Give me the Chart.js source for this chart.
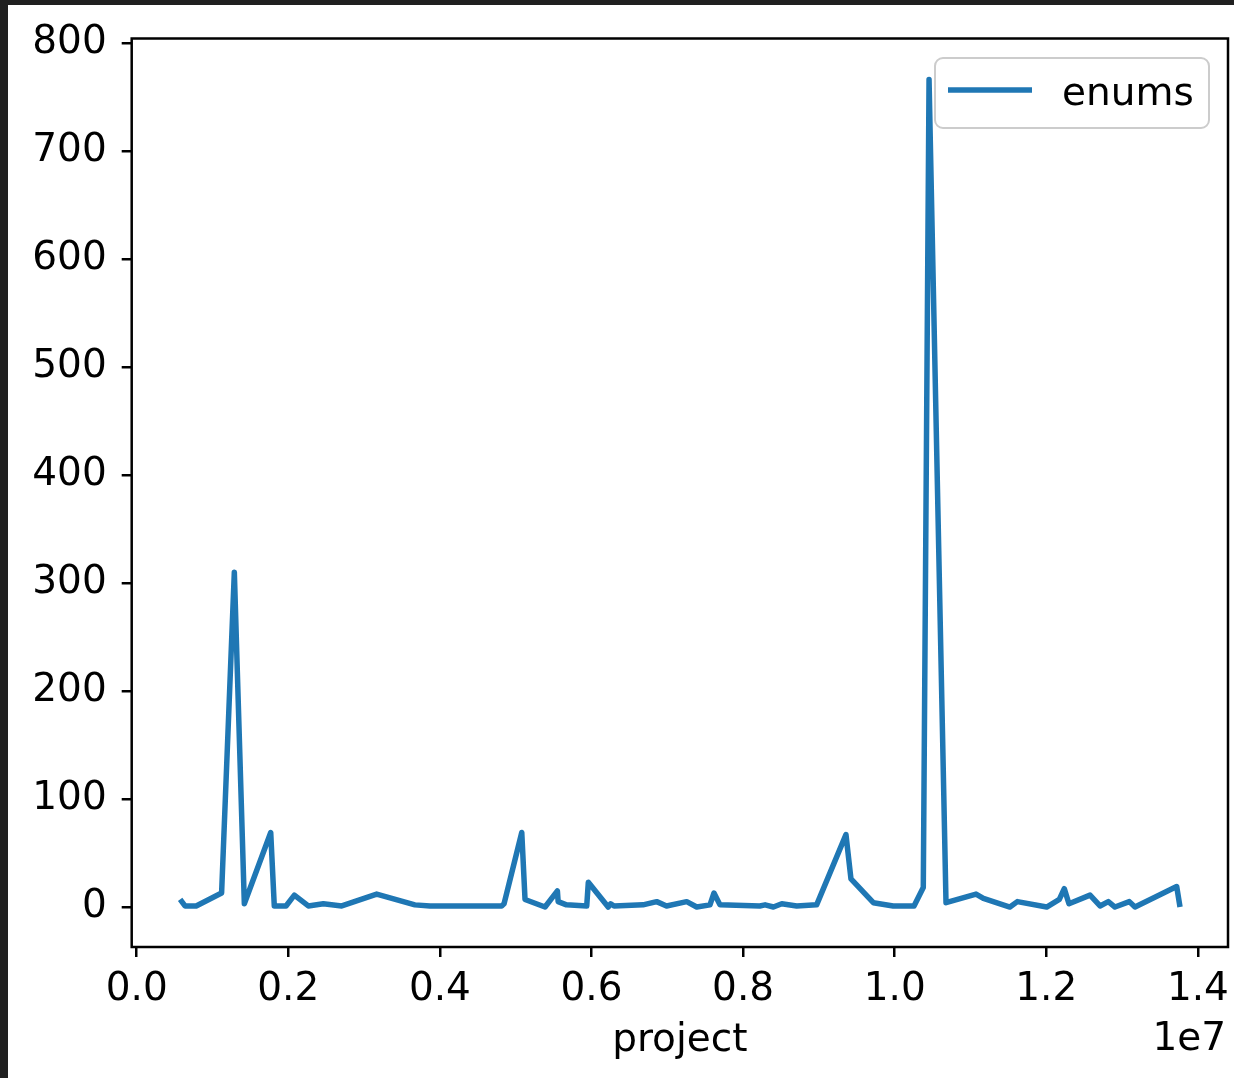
<!DOCTYPE html>
<html>
<head>
<meta charset="utf-8">
<script src="https://cdn.jsdelivr.net/npm/chart.js@4.4.0/dist/chart.umd.min.js"></script>
<style>
  html, body { margin: 0; padding: 0; background: #202020; }
  #wrap { position: absolute; left: 8px; top: 5px; width: 1226px; height: 1073px; background: #fff; }
  canvas { display: block; }
</style>
</head>
<body>
<div id="wrap"><canvas id="enumChart" width="1226" height="1073"></canvas></div>
<script>
// project id vs number of enums
const projectIds = [
  573000, 637000, 785000, 1120000, 1288000, 1420000, 1768000, 1815000, 1970000, 2080000,
  2264000, 2462000, 2705000, 3166000, 3670000, 3870000, 4815000, 4846000, 5080000, 5123000,
  5387000, 5550000, 5560000, 5670000, 5937000, 5958000, 6220000, 6253000, 6297000, 6680000,
  6860000, 6990000, 7256000, 7388000, 7563000, 7616000, 7695000, 8220000, 8290000, 8400000,
  8510000, 8707000, 8970000, 9357000, 9423000, 9718000, 9980000, 10255000, 10377000, 10453000,
  10677000, 11073000, 11170000, 11520000, 11618000, 12005000, 12172000, 12237000, 12299000, 12577000,
  12709000, 12818000, 12906000, 13095000, 13170000, 13720000, 13764000
];
const enumCounts = [
  7, 1, 1, 13, 310, 3, 69, 1, 1, 11,
  1, 3, 1, 12, 2, 1, 1, 3, 69, 7,
  0, 15, 5, 2, 1, 23, 0, 3, 1, 2,
  5, 1, 5, 0, 2, 13, 2, 1, 2, 0,
  3, 1, 2, 67, 26, 4, 1, 1, 18, 766,
  4, 12, 8, 0, 5, 0, 7, 17, 3, 11,
  1, 5, 0, 5, 0, 19, 0
];
const xTicks = [0, 2000000, 4000000, 6000000, 8000000, 10000000, 12000000, 14000000];
const yTicks = [0, 100, 200, 300, 400, 500, 600, 700, 800];
const seriesName = 'enums';
const xTitle = 'project';
const xOffsetLabel = '1e7';

Chart.defaults.font.family = '"DejaVu Sans", sans-serif';
Chart.defaults.font.size = 39;
Chart.defaults.color = '#000';

// frame, legend box and the 1e7 offset text, drawn like matplotlib does
const mplExtras = {
  id: 'mplExtras',
  afterDraw(chart) {
    const ctx = chart.ctx;
    const a = chart.chartArea;
    ctx.save();
    ctx.strokeStyle = '#000';
    ctx.lineWidth = 2.5;
    ctx.strokeRect(a.left, a.top, a.right - a.left, a.bottom - a.top);

    // legend
    const bw = 274, bh = 70;
    const bx = a.right - 19 - bw, by = a.top + 19.5;
    ctx.beginPath();
    ctx.roundRect(bx, by, bw, bh, 8);
    ctx.fillStyle = 'rgba(255,255,255,0.8)';
    ctx.fill();
    ctx.strokeStyle = '#cccccc';
    ctx.lineWidth = 2;
    ctx.stroke();
    const ds = chart.data.datasets[0];
    ctx.beginPath();
    ctx.moveTo(bx + 13, by + 32);
    ctx.lineTo(bx + 97, by + 32);
    ctx.strokeStyle = ds.borderColor;
    ctx.lineWidth = ds.borderWidth;
    ctx.stroke();
    ctx.fillStyle = '#000';
    ctx.font = '39px "DejaVu Sans", sans-serif';
    ctx.textAlign = 'left';
    ctx.textBaseline = 'alphabetic';
    ctx.fillText(ds.label, bx + 127, by + 47);

    // scale offset text
    ctx.textAlign = 'right';
    ctx.fillText(xOffsetLabel, chart.scales.x.right - 2, chart.height - 28);
    ctx.restore();
  }
};

new Chart(document.getElementById('enumChart'), {
  type: 'line',
  data: {
    datasets: [{
      label: seriesName,
      data: projectIds.map((x, i) => ({ x: x, y: enumCounts[i] })),
      borderColor: '#1f77b4',
      borderWidth: 5.5,
      borderJoinStyle: 'round',
      pointRadius: 0,
      tension: 0,
      fill: false
    }]
  },
  options: {
    responsive: false,
    animation: false,
    devicePixelRatio: 1,
    layout: { padding: { top: 33.5, right: 6, left: 0, bottom: 0 } },
    plugins: { legend: { display: false }, tooltip: { enabled: false } },
    scales: {
      x: {
        type: 'linear',
        min: -66000,
        max: 14397000,
        afterFit: s => { s.height = 131; s.paddingLeft = 0; s.paddingRight = 0; },
        afterBuildTicks: s => { s.ticks = xTicks.map(v => ({ value: v })); },
        ticks: {
          padding: 9,
          maxRotation: 0,
          callback: v => (v / 1e7).toFixed(1)
        },
        grid: { drawOnChartArea: false, drawTicks: true, tickLength: 10, color: '#000', lineWidth: 2.5 },
        border: { display: false },
        title: { display: true, text: xTitle, padding: { top: 0, bottom: 14 } }
      },
      y: {
        min: -37,
        max: 804,
        afterFit: s => { s.width = 123.7; s.paddingTop = 0; s.paddingBottom = 0; },
        afterBuildTicks: s => { s.ticks = yTicks.map(v => ({ value: v })); },
        ticks: { padding: 15, callback: v => String(v) },
        grid: { drawOnChartArea: false, drawTicks: true, tickLength: 10, color: '#000', lineWidth: 2.5 },
        border: { display: false }
      }
    }
  },
  plugins: [mplExtras]
});
</script>
</body>
</html>
